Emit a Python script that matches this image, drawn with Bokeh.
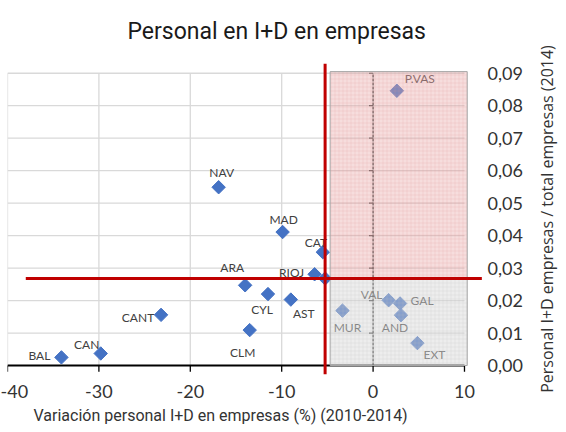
import numpy as np
from bokeh.plotting import figure
from bokeh.layouts import row
from bokeh.models import FixedTicker, ColumnDataSource, Range1d, Title
from bokeh.core.properties import value
from bokeh.embed import file_html
from bokeh.resources import INLINE

# ---------------- data ----------------
regions = ["NAV", "MAD", "CAT", "RIOJ", "ARA", "CYL", "AST", "CANT", "CLM",
           "CAN", "BAL", "P.VAS", "VAL", "GAL", "AND", "MUR", "EXT"]
variation = [-16.9, -9.9, -5.5, -6.4, -14.0, -11.5, -9.0, -23.2, -13.5,
             -29.8, -34.1, 2.6, 1.7, 2.95, 3.05, -3.35, 4.85]
ratio = [0.0549, 0.0411, 0.0349, 0.0281, 0.0247, 0.0220, 0.0203, 0.0156, 0.0109,
         0.0037, 0.0025, 0.0846, 0.0201, 0.0191, 0.0155, 0.0169, 0.0069]
spain_variation = -5.25
spain_ratio = 0.0268

x_ticks = [-40, -30, -20, -10, 0, 10]
x_tick_labels = ["-40", "-30", "-20", "-10", "0", "10"]
y_ticks = [0.00, 0.01, 0.02, 0.03, 0.04, 0.05, 0.06, 0.07, 0.08, 0.09]
y_tick_labels = ["0,00", "0,01", "0,02", "0,03", "0,04", "0,05", "0,06", "0,07", "0,08", "0,09"]

title_text = "Personal en I+D en empresas"
x_title = "Variación personal I+D en empresas (%) (2010-2014)"
y_title = "Personal I+D empresas / total empresas (2014)"

# label placement (screen px offsets, layout only)
label_offsets = {
    "NAV": (3, -15), "MAD": (1, -13), "CAT": (-7, -10), "RIOJ": (-23, -2),
    "ARA": (-13, -18), "CYL": (-6, 15), "AST": (13, 14), "CANT": (-23, 3),
    "CLM": (-7, 22), "CAN": (-14, -9), "BAL": (-22, -2), "P.VAS": (23, -12),
    "VAL": (-17, -6), "GAL": (22, -3), "AND": (-6, 12), "MUR": (5, 17), "EXT": (17, 11),
}

CALIBRI = "Lato"
NARROW = "Roboto"

p = figure(frame_width=476, frame_height=311,
           x_range=Range1d(-40, 12.08), y_range=Range1d(-0.00277, 0.0930),
           output_backend="svg", toolbar_location=None, y_axis_location="right",
           min_border_left=7, min_border_top=62, min_border_bottom=59, min_border_right=50)
p.outline_line_color = None
p.xgrid.visible = False
p.ygrid.visible = False
p.background_fill_color = "white"
p.border_fill_color = "white"

# main title
p.title.text = title_text
p.title.align = "left"
p.title.vertical_align = "top"
p.title.offset = 120
p.title.standoff = 34
p.title.text_font = NARROW
p.title.text_font_size = "23px"
p.title.text_font_style = "normal"
p.title.text_color = "#1a1a1a"

# grid lines
xmin, xmax = x_ticks[0], x_ticks[-1]
ymin, ymax = y_ticks[0], y_ticks[-1]
hy = y_ticks[1:]
p.segment(x0=[xmin] * len(hy), y0=hy, x1=[xmax] * len(hy), y1=hy,
          line_color="#d9d9d9", line_width=1.3)
vx = [t for t in x_ticks if t < 0]
p.segment(x0=vx, y0=[ymin] * len(vx), x1=vx, y1=[ymax] * len(vx),
          line_color="#d9d9d9", line_width=1.3)

# vertical axis line at x = 0 with small ticks
p.segment(x0=[0], y0=[ymin], x1=[0], y1=[ymax], line_color="#404040",
          line_width=1.5, line_dash="3 1")
p.segment(x0=[-0.45] * len(hy), y0=hy, x1=[0] * len(hy), y1=hy,
          line_color="#404040", line_width=1.2)

# horizontal axis line at y = 0 with tick marks
p.segment(x0=[xmin], y0=[0], x1=[xmax], y1=[0], line_color="black", line_width=1.8)
p.segment(x0=x_ticks, y0=[0] * len(x_ticks), x1=x_ticks, y1=[-0.0019] * len(x_ticks),
          line_color="black", line_width=1.3)

# points
src = ColumnDataSource(dict(
    x=variation, y=ratio, label=regions,
    dx=[label_offsets[r][0] for r in regions],
    dy=[label_offsets[r][1] for r in regions],
))
p.scatter(x="x", y="y", source=src, marker="square", angle=np.pi / 4, size=9.5,
          fill_color="#4472C4", line_color="#4472C4")
p.scatter(x=[spain_variation], y=[spain_ratio], marker="square", angle=np.pi / 4,
          size=9.5, fill_color="#4472C4", line_color="#4472C4")
p.text(x="x", y="y", text="label", x_offset="dx", y_offset="dy", source=src,
       text_align="center", text_baseline="middle", text_font=value(CALIBRI),
       text_font_size="12px", text_color="#404040")

# shaded quadrant boxes
box_left = spain_variation + 0.55
box_right = xmax + 0.3
box_top = ymax + 0.0005
p.quad(left=[box_left], right=[box_right], bottom=[spain_ratio], top=[box_top],
       fill_color="#e8aaaa", fill_alpha=0.4, line_color="#a6a6a6", line_width=1,
       hatch_pattern="+", hatch_scale=4, hatch_weight=0.6, hatch_color="#d98c8c",
       hatch_alpha=0.3)
p.quad(left=[box_left], right=[box_right], bottom=[ymin], top=[spain_ratio],
       fill_color="#d6d6d6", fill_alpha=0.45, line_color="#a6a6a6", line_width=1,
       hatch_pattern="+", hatch_scale=4, hatch_weight=0.6, hatch_color="#bdbdbd",
       hatch_alpha=0.35)

# Spain average lines
p.segment(x0=[spain_variation], y0=[-0.00277], x1=[spain_variation], y1=[0.0930],
          line_color="#C00000", line_width=3)
p.segment(x0=[-38.0], y0=[spain_ratio], x1=[11.9], y1=[spain_ratio],
          line_color="#C00000", line_width=3)

# x axis (labels only; line drawn at y = 0 above)
xa = p.xaxis[0]
xa.ticker = FixedTicker(ticks=x_ticks)
xa.major_label_overrides = dict(zip(x_ticks, x_tick_labels))
xa.axis_line_color = None
xa.major_tick_line_color = None
xa.major_tick_in = 0
xa.major_tick_out = 0
xa.minor_tick_line_color = None
xa.major_label_standoff = 10
xa.major_label_text_font = CALIBRI
xa.major_label_text_font_size = "18px"
xa.major_label_text_color = "#333333"

# x axis title
p.add_layout(Title(text=x_title, align="left", offset=26, standoff=7,
                   text_font=NARROW, text_font_size="16px", text_font_style="normal",
                   text_color="#333333"), "below")

# y axis on right (labels only)
ya = p.yaxis[0]
ya.ticker = FixedTicker(ticks=y_ticks)
ya.major_label_overrides = dict(zip(y_ticks, y_tick_labels))
ya.axis_line_color = None
ya.major_tick_line_color = None
ya.minor_tick_line_color = None
ya.major_label_standoff = -2
ya.major_label_text_font = CALIBRI
ya.major_label_text_font_size = "18px"
ya.major_label_text_color = "#333333"

# narrow strip on the right holding the y-axis title (reads bottom to top)
side = figure(frame_width=1, frame_height=311, output_backend="svg",
              toolbar_location=None, x_axis_type=None, y_axis_type=None,
              min_border_left=0, min_border_right=0, min_border_top=62,
              min_border_bottom=59, title=y_title, title_location="left")
side.outline_line_color = None
side.xgrid.visible = False
side.ygrid.visible = False
side.background_fill_color = "white"
side.border_fill_color = "white"
side.title.align = "center"
side.title.standoff = 0
side.title.text_font = "Open Sans"
side.title.text_font_size = "16px"
side.title.text_font_style = "normal"
side.title.text_color = "#333333"

layout = row(p, side, spacing=0)
open("out.html", "w").write(file_html(layout, INLINE))
